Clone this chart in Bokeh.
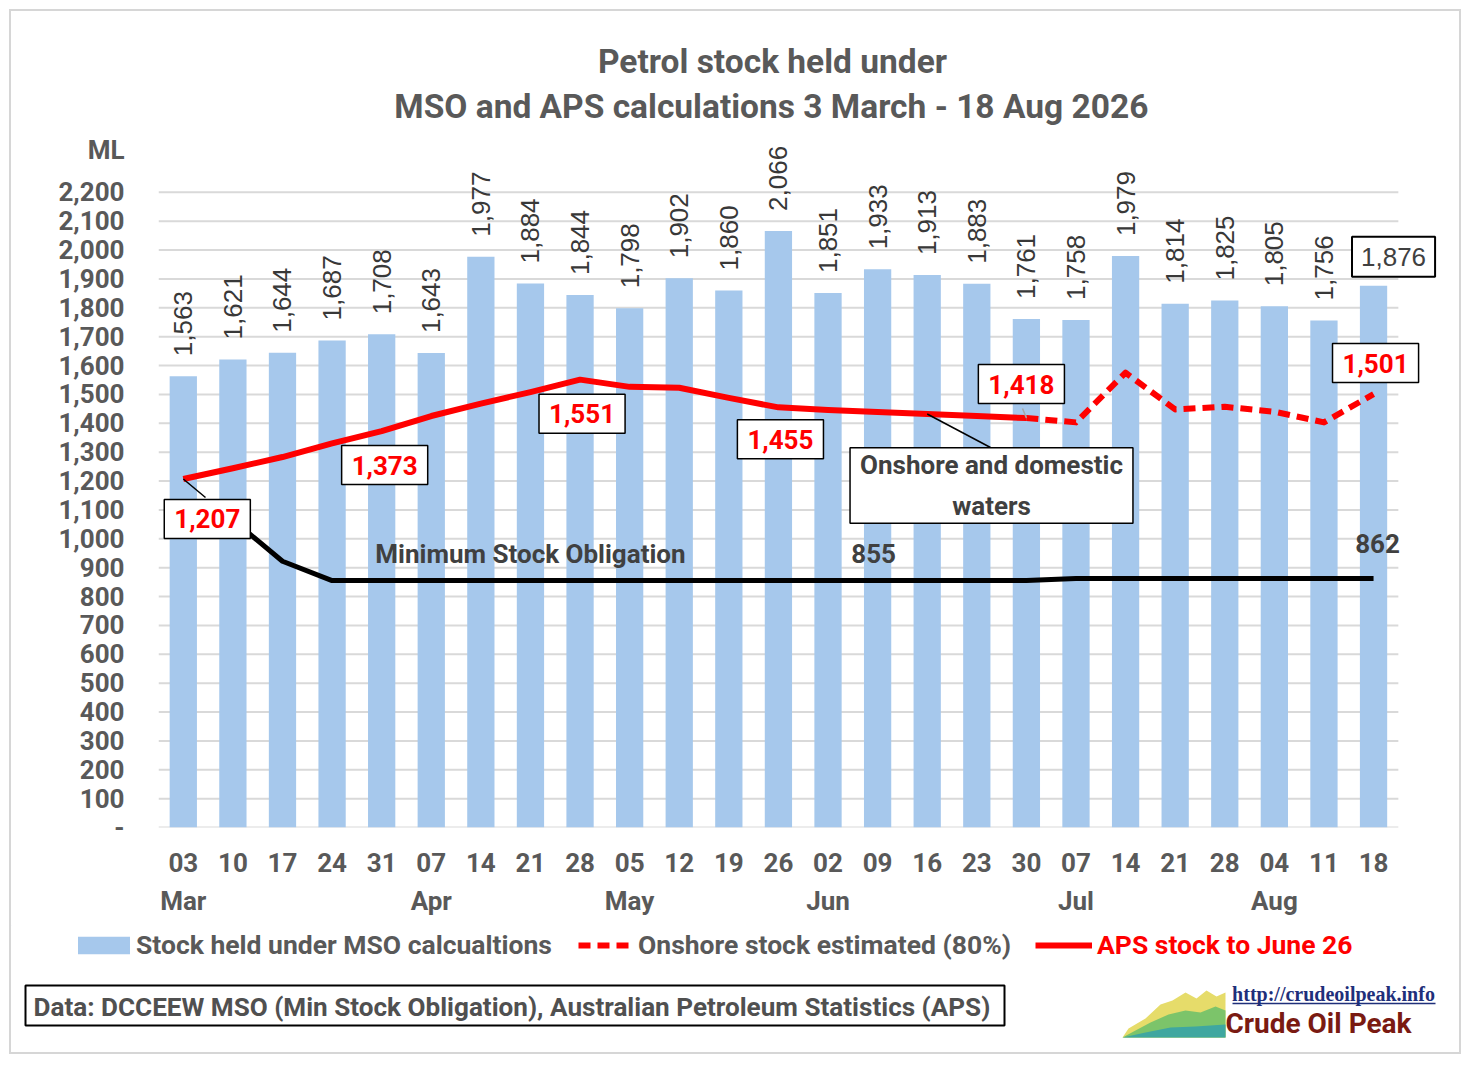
import math
from bokeh.plotting import figure
from bokeh.layouts import column
from bokeh.models import (FixedTicker, Range1d, Label, Legend, LegendItem, Arrow,
                          NumeralTickFormatter, LinearAxis)
from bokeh.core.properties import value
from bokeh.embed import file_html
from bokeh.resources import INLINE

# ---------------- data ----------------
week_days = ["03", "10", "17", "24", "31", "07", "14", "21", "28", "05", "12", "19", "26",
             "02", "09", "16", "23", "30", "07", "14", "21", "28", "04", "11", "18"]
month_names = ["Mar", "Apr", "May", "Jun", "Jul", "Aug"]
month_first_week = [0, 5, 9, 13, 18, 22]

mso_stock = [1563, 1621, 1644, 1687, 1708, 1643, 1977, 1884, 1844, 1798, 1902, 1860, 2066,
             1851, 1933, 1913, 1883, 1761, 1758, 1979, 1814, 1825, 1805, 1756, 1876]
# APS stock (solid) 03 Mar - 30 Jun
aps_stock = [1207, 1244, 1283, 1330, 1373, 1425, 1468, 1508, 1551, 1526, 1523, 1488, 1455,
             1446, 1439, 1432, 1425, 1418]
# Onshore estimate (dashed) 30 Jun - 18 Aug
onshore_est = [1418, 1403, 1575, 1448, 1457, 1440, 1403, 1501]
min_obligation = [1120, 1065, 922, 855, 855, 855, 855, 855, 855, 855, 855, 855, 855,
                  855, 855, 855, 855, 855, 862, 862, 862, 862, 862, 862, 862]

yticks = list(range(0, 2201, 100))
unit_tick = 2369  # position of the "ML" unit label on the value axis

idx = list(range(len(week_days)))
aps_idx = idx[:len(aps_stock)]
ons_idx = idx[len(aps_stock) - 1:]

GRAY = "#595959"
DARK = "#404040"
RED = "#ff0000"
BLUE = "#a6c8ec"
GRID = "#d9d9d9"
FONT = "Roboto"
W = 1448


def flat_fig(h, top, bottom):
    """A figure whose frame is the whole canvas, in page pixel units."""
    f = figure(width=W, height=h, x_range=Range1d(11, 11 + W), y_range=Range1d(bottom, top),
               x_axis_type=None, y_axis_type=None, min_border=0, output_backend="svg",
               toolbar_location=None, frame_align=False)
    f.outline_line_color = None
    return f


# ---------------- title figure ----------------
ft = flat_fig(123, 11, 134)
ft.text(x=[772, 775], y=[61, 106],
        text=["Petrol stock held under", "MSO and APS calculations 3 March - 18  Aug 2026"],
        text_align="center", text_baseline="middle", text_font=value(FONT),
        text_font_style="bold", text_font_size="33.5px", text_color=GRAY)

# ---------------- main figure ----------------
p = figure(width=W, height=791, x_range=Range1d(-0.5, 25.35), y_range=Range1d(0, 2400),
           output_backend="svg", toolbar_location=None, frame_align=False,
           min_border_left=147, min_border_right=19, min_border_top=0, min_border_bottom=98)
p.outline_line_color = None

xa = p.xaxis[0]
xa.ticker = FixedTicker(ticks=idx)
xa.major_label_overrides = {i: d for i, d in enumerate(week_days)}
xa.major_tick_line_color = None
xa.minor_tick_line_color = None
xa.axis_line_color = None
xa.major_label_text_font = FONT
xa.major_label_text_font_style = "bold"
xa.major_label_text_font_size = "26px"
xa.major_label_text_color = GRAY
xa.major_label_standoff = 19

ma = LinearAxis(ticker=FixedTicker(ticks=month_first_week),
                major_label_overrides={i: m for i, m in zip(month_first_week, month_names)},
                axis_line_color=None, major_tick_line_color=None, minor_tick_line_color=None,
                major_label_text_font=FONT, major_label_text_font_style="bold",
                major_label_text_font_size="26px", major_label_text_color=GRAY,
                major_label_standoff=5)
p.add_layout(ma, "below")

ya = p.yaxis[0]
ya.ticker = FixedTicker(ticks=yticks + [unit_tick])
ya.formatter = NumeralTickFormatter(format="0,0")
ya.major_label_overrides = {0: "-", unit_tick: "ML"}
ya.axis_line_color = None
ya.major_tick_line_color = None
ya.minor_tick_line_color = None
ya.major_label_text_font = FONT
ya.major_label_text_font_style = "bold"
ya.major_label_text_font_size = "26px"
ya.major_label_text_color = GRAY
ya.major_label_standoff = 28

p.xgrid.visible = False
p.ygrid.visible = False
# horizontal gridlines (and category axis line at 0) over the category span only
p.segment(x0=[-0.5] * len(yticks), x1=[24.5] * len(yticks), y0=yticks, y1=yticks,
          line_color=GRID, line_width=2)

bars = p.vbar(x=idx, top=mso_stock, width=0.55, fill_color=BLUE, line_color=None)
p.line(idx, min_obligation, line_color="black", line_width=5, line_join="round")
p.line(aps_idx, aps_stock, line_color=RED, line_width=6, line_join="round")
p.line(ons_idx, onshore_est, line_color=RED, line_width=6, line_dash="12 7", line_join="round")

# rotated bar labels (all but the last bar)
p.text(x=idx[:-1], y=mso_stock[:-1], text=[f"{v:,}" for v in mso_stock[:-1]],
       angle=math.pi / 2, text_align="left", text_baseline="middle", y_offset=-20,
       text_font=value("Liberation Sans"), text_font_size="26px", text_color="#383838")

# leader lines
p.add_layout(Arrow(start=None, end=None, x_start=0, y_start=aps_stock[0], start_units="data",
                   x_end=47, y_end=330, end_units="screen", line_color="black", line_width=1.5))
p.add_layout(Arrow(start=None, end=None, x_start=15, y_start=aps_stock[15], start_units="data",
                   x_end=832, y_end=380, end_units="screen", line_color="black", line_width=1.5))
p.add_layout(Arrow(start=None, end=None, x_start=17, y_start=aps_stock[17], start_units="data",
                   x_end=864, y_end=419, end_units="screen", line_color="#a6a6a6", line_width=1.5))

# boxed label for the last bar
last = len(mso_stock) - 1
p.add_layout(Label(x=last, y=mso_stock[last], text=f"{mso_stock[last]:,}", x_offset=20, y_offset=29,
                   text_align="center", text_baseline="middle", text_font="Liberation Sans",
                   text_font_size="26px", text_color=DARK, border_line_color="black",
                   border_line_width=2, background_fill_color="white",
                   padding={"left": 9, "right": 9, "top": 11, "bottom": 11}))

# red boxed value labels
red_labels = [(0, aps_stock[0], 24, -40), (4, aps_stock[4], 3, -34), (8, aps_stock[8], 2, -34),
              (12, aps_stock[12], 2, -32), (17, aps_stock[17], -5, 34),
              (ons_idx[-1], onshore_est[-1], 2, 31)]
for xi, yv, xo, yo in red_labels:
    p.add_layout(Label(x=xi, y=yv, text=f"{yv:,}", x_offset=xo, y_offset=yo,
                       text_align="center", text_baseline="middle", text_font=FONT,
                       text_font_style="bold", text_font_size="26px", text_color=RED,
                       border_line_color="black", border_line_width=1.5,
                       background_fill_color="white",
                       padding={"left": 10, "right": 10, "top": 10, "bottom": 10}))

# callout box
p.add_layout(Label(x=833, y=342, x_units="screen", y_units="screen",
                   text="Onshore and domestic\nwaters", text_align="center", text_baseline="middle",
                   text_font=FONT, text_font_style="bold", text_font_size="26px", text_color=DARK,
                   text_line_height=1.38, border_line_color="black", border_line_width=1.5,
                   background_fill_color="white",
                   padding={"left": 10, "right": 10, "top": 2, "bottom": 2}))

# minimum stock obligation texts
mso_text = dict(text_align="center", text_baseline="middle", text_font=FONT,
                text_font_style="bold", text_font_size="26px", text_color=DARK)
p.add_layout(Label(x=7, y=min_obligation[7], text="Minimum Stock Obligation", y_offset=27, **mso_text))
p.add_layout(Label(x=14, y=min_obligation[14], text=f"{min_obligation[14]}", x_offset=-4,
                   y_offset=27, **mso_text))
p.add_layout(Label(x=24, y=min_obligation[24], text=f"{min_obligation[24]}", x_offset=4,
                   y_offset=35, **mso_text))

# ---------------- bottom figure: legend, source, logo ----------------
fb = flat_fig(127, 925, 1052)
# legend proxies, kept outside the visible area
d_bar = fb.vbar(x=[-500], top=[-500], bottom=[-510], width=1, fill_color=BLUE, line_color=None)
d_dash = fb.line(x=[-520, -510], y=[-500, -500], line_color=RED, line_width=6, line_dash="12 7")
d_solid = fb.line(x=[-520, -510], y=[-500, -500], line_color=RED, line_width=6)

leg_common = dict(orientation="horizontal", padding=0, margin=0, border_line_color=None,
                  background_fill_alpha=0, label_text_font=FONT, label_text_font_style="bold",
                  label_text_font_size="26.5px", label_height=22)
fb.add_layout(Legend(items=[LegendItem(label=value("Stock held under MSO calcualtions"),
                                       renderers=[d_bar])],
                     location=(60, 92), glyph_width=65, glyph_height=22, label_standoff=0,
                     label_text_color=GRAY, **leg_common))
fb.add_layout(Legend(items=[LegendItem(label=value("Onshore stock estimated (80%)"),
                                       renderers=[d_dash])],
                     location=(567, 92), glyph_width=57, glyph_height=22, label_standoff=3,
                     label_text_color=GRAY, **leg_common))
fb.add_layout(Legend(items=[LegendItem(label=value("APS stock to June 26"), renderers=[d_solid])],
                     location=(1024, 92), glyph_width=57, glyph_height=22, label_standoff=5,
                     label_text_color=RED, **leg_common))

# data source box
fb.quad(left=[25], right=[1004], top=[985], bottom=[1025], fill_color="white",
        line_color="black", line_width=2)
fb.text(x=[33], y=[1006], text=["Data: DCCEEW MSO (Min Stock Obligation), Australian Petroleum Statistics (APS)"],
        text_align="left", text_baseline="middle", text_font=value(FONT), text_font_style="bold",
        text_font_size="26.1px", text_color="#505050")

# logo
fb.patch([1122, 1128, 1145, 1160, 1172, 1185, 1196, 1206, 1216, 1225, 1225],
         [1037, 1028, 1018, 1004, 1000, 992, 998, 990, 996, 992, 1037],
         fill_color="#e6dc6a", line_color=None)
fb.patch([1122, 1135, 1150, 1168, 1185, 1200, 1215, 1225, 1225],
         [1037, 1030, 1022, 1014, 1010, 1012, 1006, 1010, 1037],
         fill_color="#7cc46a", line_color=None)
fb.patch([1122, 1145, 1170, 1195, 1225, 1225],
         [1037, 1032, 1027, 1026, 1024, 1037],
         fill_color="#3fa7a0", line_color=None)
fb.text(x=[1333], y=[993], text=["http://crudeoilpeak.info"], text_align="center",
        text_baseline="middle", text_font=value("Liberation Serif"), text_font_style="bold",
        text_font_size="20px", text_color="#1f2f7a")
fb.segment(x0=[1232], x1=[1435], y0=[1003], y1=[1003], line_color="#1f2f7a", line_width=1.5)
fb.text(x=[1318], y=[1023], text=["Crude Oil Peak"], text_align="center", text_baseline="middle",
        text_font=value(FONT), text_font_style="bold", text_font_size="28px", text_color="#7a1a12")

layout = column(ft, p, fb, spacing=0, margin=(11, 0, 0, 11),
                styles={"outline": "2px solid #d6d6d6"})

open("out.html", "w").write(file_html(layout, INLINE))
